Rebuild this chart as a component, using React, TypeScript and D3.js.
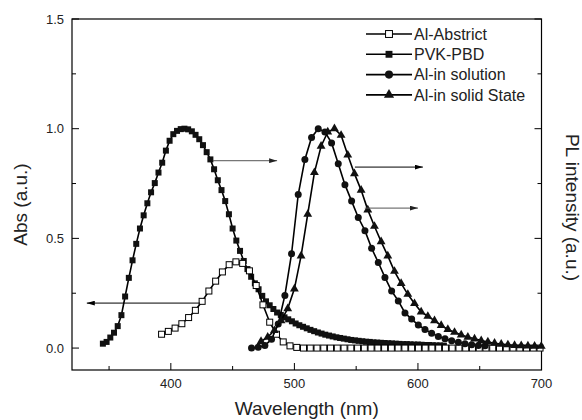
import * as d3 from 'd3';

// PVK-PBD absorption, 3 nm grid from 345 nm
const pvkStart = 345;
const pvkStep = 3;
const pvkValues = [
  0.02, 0.028, 0.048, 0.07, 0.1, 0.15, 0.235, 0.32, 0.4, 0.475,
  0.545, 0.605, 0.66, 0.71, 0.752, 0.8, 0.845, 0.9, 0.945, 0.975,
  0.99, 0.998, 1.0, 0.997, 0.988, 0.972, 0.952, 0.925, 0.893, 0.86,
  0.815, 0.765, 0.72, 0.67, 0.61, 0.545, 0.49, 0.443, 0.397, 0.36,
  0.325, 0.295, 0.268, 0.238, 0.213, 0.195, 0.178, 0.162, 0.151, 0.14,
  0.131, 0.122, 0.112, 0.104, 0.097, 0.09, 0.083, 0.077, 0.071, 0.066,
  0.061, 0.057, 0.053, 0.049, 0.046, 0.043, 0.04, 0.037, 0.035, 0.033,
  0.031, 0.029, 0.028, 0.026, 0.025, 0.024, 0.023, 0.022, 0.021, 0.02,
  0.019, 0.018, 0.018, 0.017, 0.016, 0.016, 0.015, 0.014, 0.014, 0.013,
  0.012, 0.012, 0.011,
];

// Al-Abstrict absorption
const abstrictStart = 392.5;
const abstrictStep = 5.47;
const abstrictValues = [
  0.063, 0.076, 0.091, 0.111, 0.139, 0.172, 0.213, 0.26, 0.305, 0.347,
  0.38, 0.393, 0.386, 0.352, 0.285, 0.197, 0.118, 0.063, 0.028, 0.01,
  0.003, 0, 0, 0, 0, 0, 0, 0, 0, 0,
  0, 0, 0, 0, 0, 0, 0, 0, 0, 0,
  0, 0, 0, 0, 0, 0, 0, 0, 0, 0,
  0, 0, 0, 0, 0, 0, 0,
];

// Al-in solution PL
const solutionStart = 465.3;
const solutionStep = 5.4;
const solutionValues = [
  0.0, 0.004, 0.012, 0.04, 0.11, 0.24, 0.43, 0.7, 0.86, 0.96,
  1.0, 0.985, 0.935, 0.84, 0.745, 0.67, 0.595, 0.535, 0.455, 0.39,
  0.322, 0.26, 0.215, 0.16, 0.132, 0.105, 0.085, 0.068, 0.053, 0.042,
  0.033, 0.026, 0.02, 0.015, 0.012, 0.01,
];

// Al-in solid State PL
const solidStart = 473;
const solidStep = 5.4;
const solidValues = [
  0.03, 0.05, 0.08, 0.125, 0.18, 0.27, 0.42, 0.61, 0.8, 0.92,
  0.985, 1.0, 0.97, 0.88, 0.795, 0.72, 0.63, 0.555, 0.485, 0.42,
  0.35, 0.295, 0.245, 0.203, 0.165, 0.145, 0.125, 0.103, 0.085, 0.072,
  0.06, 0.05, 0.042, 0.034, 0.028, 0.022, 0.018, 0.015, 0.012, 0.011,
  0.01, 0.009, 0.008,
];

const xMajor = [400, 500, 600, 700];
const xMinor = [350, 450, 550, 650];
const yMajor = [0, 0.5, 1.0, 1.5];
const yMinor = [0.25, 0.75, 1.25];

const legendNames = ['Al-Abstrict', 'PVK-PBD', 'Al-in solution', 'Al-in solid State'];

// annotation arrows in data units
const arrows = [
  { from: [434, 0.854], to: [486, 0.854], color: '#555' },
  { from: [423.5, 0.205], to: [332, 0.205], color: '#000' },
  { from: [549, 0.825], to: [604, 0.825], color: '#000' },
  { from: [557, 0.638], to: [600, 0.638], color: '#555' },
];

type Pt = { wl: number; v: number };
const toPts = (start: number, step: number, vals: number[]): Pt[] =>
  vals.map((v, i) => ({ wl: start + i * step, v }));

const W = 582;
const H = 420;
const left = 72, right = 541.5, top = 19, bottom = 370;

const x = d3.scaleLinear().domain([320, 700]).range([left, right]);
const y = d3.scaleLinear().domain([-0.1, 1.5]).range([bottom, top]);

const line = d3.line<Pt>().x(d => x(d.wl)).y(d => y(d.v));

const font = '"Liberation Sans", Arial, Helvetica, sans-serif';

type Kind = 'open' | 'filled' | 'circle' | 'tri';

function Marker({ kind, cx, cy, s = 1 }: { kind: Kind; cx: number; cy: number; s?: number }) {
  if (kind === 'open') {
    const h = 3 * s;
    return <rect x={cx - h} y={cy - h} width={2 * h} height={2 * h} fill="#fff" stroke="#000" strokeWidth={1} />;
  }
  if (kind === 'filled') {
    const h = 3 * s;
    return <rect x={cx - h} y={cy - h} width={2 * h} height={2 * h} fill="#111" />;
  }
  if (kind === 'circle') return <circle cx={cx} cy={cy} r={3.5 * s} fill="#111" />;
  const tri = d3.symbol(d3.symbolTriangle, 34 * s * s)() as string;
  return <path d={tri} transform={`translate(${cx},${cy})`} fill="#111" />;
}

function Series({ pts, kind }: { pts: Pt[]; kind: Kind }) {
  return (
    <g>
      <path d={line(pts) || ''} fill="none" stroke="#000" strokeWidth={1.6} />
      {pts.map((p, i) => (
        <Marker key={i} kind={kind} cx={x(p.wl)} cy={y(p.v)} />
      ))}
    </g>
  );
}

export default function App() {
  const pvk = toPts(pvkStart, pvkStep, pvkValues);
  const abstrict = toPts(abstrictStart, abstrictStep, abstrictValues);
  const solution = toPts(solutionStart, solutionStep, solutionValues);
  const solid = toPts(solidStart, solidStep, solidValues);
  const kinds: Kind[] = ['open', 'filled', 'circle', 'tri'];

  return (
    <svg width={W} height={H} style={{ position: 'absolute', left: 0, top: 0, background: '#fff' }}>
      <defs>
        <marker id="headBlack" viewBox="0 0 10 6" refX="10" refY="3" markerWidth="8" markerHeight="5" markerUnits="userSpaceOnUse" orient="auto">
          <path d="M0,0 L10,3 L0,6 Z" fill="#000" />
        </marker>
        <marker id="headGray" viewBox="0 0 10 6" refX="10" refY="3" markerWidth="8" markerHeight="5" markerUnits="userSpaceOnUse" orient="auto">
          <path d="M0,0 L10,3 L0,6 Z" fill="#222" />
        </marker>
      </defs>

      {/* frame */}
      <rect x={left} y={top} width={right - left} height={bottom - top} fill="none" stroke="#000" strokeWidth={1.2} />

      {/* x ticks */}
      {xMajor.map(t => (
        <g key={'xm' + t}>
          <line x1={x(t)} x2={x(t)} y1={bottom} y2={bottom - 7} stroke="#000" strokeWidth={1} />
          <text x={x(t)} y={388} textAnchor="middle" fontFamily={font} fontSize={13} fill="#222">{t}</text>
        </g>
      ))}
      {xMinor.map(t => (
        <line key={'xn' + t} x1={x(t)} x2={x(t)} y1={bottom} y2={bottom - 4} stroke="#000" strokeWidth={1} />
      ))}

      {/* y ticks left and right */}
      {yMajor.map(t => (
        <g key={'ym' + t}>
          <line x1={left} x2={left + 7} y1={y(t)} y2={y(t)} stroke="#000" strokeWidth={1} />
          <line x1={right} x2={right - 7} y1={y(t)} y2={y(t)} stroke="#000" strokeWidth={1} />
          <text x={64} y={y(t) + 4.6} textAnchor="end" fontFamily={font} fontSize={13} fill="#222">{t.toFixed(1)}</text>
        </g>
      ))}
      {yMinor.map(t => (
        <g key={'yn' + t}>
          <line x1={left} x2={left + 4} y1={y(t)} y2={y(t)} stroke="#000" strokeWidth={1} />
          <line x1={right} x2={right - 4} y1={y(t)} y2={y(t)} stroke="#000" strokeWidth={1} />
        </g>
      ))}

      {/* axis titles */}
      <text x={(left + right) / 2} y={415} textAnchor="middle" fontFamily={font} fontSize={19} fill="#222">Wavelength (nm)</text>
      <text transform={`translate(27,${(top + bottom) / 2 + 10}) rotate(-90)`} textAnchor="middle" fontFamily={font} fontSize={19} fill="#222">Abs (a.u.)</text>
      <text transform={`translate(566,${(top + bottom) / 2 + 13}) rotate(90)`} textAnchor="middle" fontFamily={font} fontSize={19} fill="#222">PL intensity (a.u.)</text>

      {/* data */}
      <Series pts={pvk} kind="filled" />
      <Series pts={abstrict} kind="open" />
      <Series pts={solution} kind="circle" />
      <Series pts={solid} kind="tri" />

      {/* arrows */}
      {arrows.map((a, i) => (
        <line key={'ar' + i} x1={x(a.from[0])} y1={y(a.from[1])} x2={x(a.to[0])} y2={y(a.to[1])}
          stroke={a.color} strokeWidth={1} markerEnd={a.color === '#000' ? 'url(#headBlack)' : 'url(#headGray)'} />
      ))}

      {/* legend */}
      {legendNames.map((name, i) => {
        const ly = 34 + i * 20.3;
        return (
          <g key={name}>
            <line x1={366} x2={412} y1={ly} y2={ly} stroke="#000" strokeWidth={1.6} />
            <Marker kind={kinds[i]} cx={389} cy={ly} s={1.15} />
            <text x={414} y={ly + 5.8} fontFamily={font} fontSize={16} fill="#222">{name}</text>
          </g>
        );
      })}
    </svg>
  );
}
